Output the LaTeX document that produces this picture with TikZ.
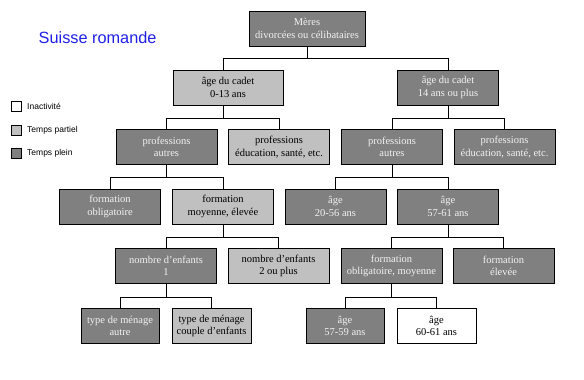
\documentclass[tikz,border=0pt]{standalone}
\usepackage{fontspec}
\setmainfont{Liberation Serif}[Ligatures=ResetAll]
\newfontfamily\arialf{Liberation Sans}
\usetikzlibrary{calc}
\definecolor{dkgray}{HTML}{808080}
\definecolor{ltgray}{HTML}{C0C0C0}
\definecolor{titleblue}{HTML}{1F1FE6}
\definecolor{txtlight}{HTML}{F2F2F2}
\tikzset{
  x=1pt, y=-1pt,
  boxbase/.style={draw=black, line width=0.9pt, align=center, inner sep=1pt,
    minimum width=101pt, minimum height=35pt,
    font=\fontsize{10.5}{12.6}\selectfont},
  dk/.style={boxbase, fill=dkgray, text=txtlight},
  lt/.style={boxbase, fill=ltgray, text=black},
  wh/.style={boxbase, fill=white, text=black},
  link/.style={draw=black, line width=0.8pt},
  legbox/.style={draw=black, line width=0.7pt, minimum width=10pt, minimum height=10pt, inner sep=0pt},
  legtxt/.style={font=\arialf\fontsize{8.5}{10}\selectfont, anchor=west, inner sep=0pt},
}
\begin{document}
\begin{tikzpicture}
\useasboundingbox (0,0) rectangle (584,380);
% title
\node[anchor=west, inner sep=0pt, text=titleblue, font=\arialf\fontsize{16.3}{19}\selectfont] (title) at (38.5,38) {Suisse romande};
% legend
\node[legbox, fill=white] (l1) at (16,106) {};
\node[legtxt] (t1) at (27,106) {Inactivité};
\node[legbox, fill=ltgray] (l2) at (16,130) {};
\node[legtxt] (t2) at (27,130) {Temps partiel};
\node[legbox, fill=dkgray] (l3) at (16,153) {};
\node[legtxt] (t3) at (27,153) {Temps plein};
% level 1
\node[dk, minimum width=116pt] (root) at (307,28.5) {Mères\\divorcées ou célibataires};
% level 2
\node[lt, minimum width=110pt] (a1) at (228,87.5) {âge du cadet\\0-13 ans};
\node[dk] (a2) at (448,87.5) {âge du cadet\\14 ans ou plus};
% level 3
\node[dk] (p1) at (166.5,147) {professions\\autres};
\node[lt] (p2) at (279,147) {professions\\éducation, santé, etc.};
\node[dk] (p3) at (392,147) {professions\\autres};
\node[dk] (p4) at (504.5,147) {professions\\éducation, santé, etc.};
% level 4
\node[dk] (f1) at (110,206.5) {formation\\obligatoire};
\node[lt] (f2) at (223,206.5) {formation\\moyenne, élevée};
\node[dk] (g1) at (335.5,206.5) {âge\\20-56 ans};
\node[dk] (g2) at (448,206.5) {âge\\57-61 ans};
% level 5
\node[dk] (n1) at (166,266) {nombre d'enfants\\1};
\node[lt] (n2) at (278.5,266) {nombre d'enfants\\2 ou plus};
\node[dk] (h1) at (391.5,266) {formation\\obligatoire, moyenne};
\node[dk] (h2) at (503.5,266) {formation\\élevée};
% level 6
\node[dk, minimum width=78pt] (m1) at (120,326) {type de ménage\\autre};
\node[lt, minimum width=79pt] (m2) at (211.5,326) {type de ménage\\couple d'enfants};
\node[dk, minimum width=78pt] (k1) at (345,326) {âge\\57-59 ans};
\node[wh, minimum width=79pt] (k2) at (436.5,326) {âge\\60-61 ans};
% connectors
\draw[link] (root.south) -- ++(0,12) -| ([xshift=-5pt]a1.north);
\draw[link] (root.south) -- ++(0,12) -| (a2.north);
\draw[link] ([xshift=-5pt]a1.south) -- ++(0,13) -| (p1.north);
\draw[link] ([xshift=-5pt]a1.south) -- ++(0,13) -| (p2.north);
\draw[link] (a2.south) -- ++(0,13) -| (p3.north);
\draw[link] (a2.south) -- ++(0,13) -| (p4.north);
\draw[link] (p1.south) -- ++(0,12) -| (f1.north);
\draw[link] (p1.south) -- ++(0,12) -| (f2.north);
\draw[link] (p3.south) -- ++(0,12) -| (g1.north);
\draw[link] (p3.south) -- ++(0,12) -| (g2.north);
\draw[link] (f2.south) -- ++(0,13) -| (n1.north);
\draw[link] (f2.south) -- ++(0,13) -| (n2.north);
\draw[link] (g2.south) -- ++(0,13) -| (h1.north);
\draw[link] (g2.south) -- ++(0,13) -| (h2.north);
\draw[link] (n1.south) -- ++(0,13) -| (m1.north);
\draw[link] (n1.south) -- ++(0,13) -| (m2.north);
\draw[link] (h1.south) -- ++(0,13) -| (k1.north);
\draw[link] (h1.south) -- ++(0,13) -| (k2.north);
\end{tikzpicture}
\end{document}
